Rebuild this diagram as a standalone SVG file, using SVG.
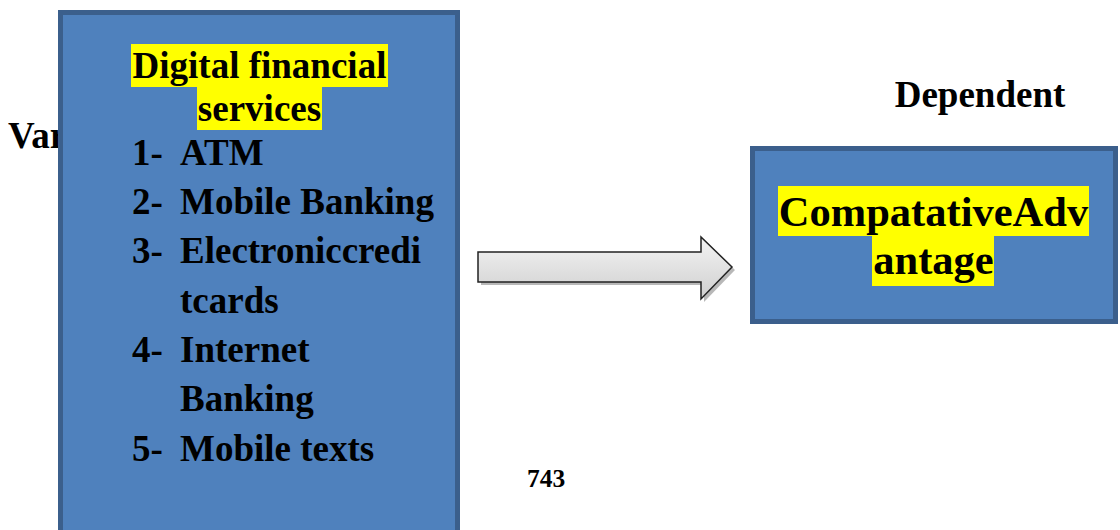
<svg xmlns="http://www.w3.org/2000/svg" width="1120" height="530" viewBox="0 0 1120 530">
<style>
.t{font-family:"Liberation Serif","Times New Roman",serif;font-weight:bold;fill:#000}
.box{fill:#4f81bd;stroke:#3b5f8c;stroke-width:5}
.hl{fill:#ffff00}
</style>
<defs>
<linearGradient id="ag" x1="0" y1="0" x2="0" y2="1">
<stop offset="0" stop-color="#f4f4f4"/>
<stop offset="1" stop-color="#cfcfcf"/>
</linearGradient>
</defs>
<rect width="1120" height="530" fill="#fff"/>
<text class="t" x="8" y="148" font-size="37">Var</text>
<g id="independent">
<rect class="box" x="60.5" y="12.5" width="397" height="530"/>
<rect class="hl" x="131" y="44" width="257" height="43"/>
<rect class="hl" x="197" y="87" width="125" height="43"/>
<text class="t" x="259.5" y="78" font-size="37" text-anchor="middle">Digital financial</text>
<text class="t" x="259.5" y="121" font-size="37" text-anchor="middle">services</text>
<g class="t" font-size="37">
<text x="132" y="165">1-</text><text x="180" y="165">ATM</text>
<text x="132" y="214">2-</text><text x="180" y="214">Mobile Banking</text>
<text x="132" y="263">3-</text><text x="180" y="263">Electroniccredi</text>
<text x="180" y="313">tcards</text>
<text x="132" y="362">4-</text><text x="180" y="362">Internet</text>
<text x="180" y="411">Banking</text>
<text x="132" y="461">5-</text><text x="180" y="461">Mobile texts</text>
</g>
</g>
<g id="connectors">
<polygon points="481,255 704,255 704,240 735,270 704,302 704,285 481,285" fill="#9a9a9a" opacity="0.7"/>
<polygon points="478,252 701,252 701,237 732,267 701,299 701,282 478,282" fill="url(#ag)" stroke="#222" stroke-width="1.5"/>
</g>
<text class="t" x="980" y="107" font-size="37" text-anchor="middle">Dependent</text>
<g id="dependent">
<rect class="box" x="752.5" y="148.5" width="363" height="173"/>
<rect class="hl" x="778" y="186" width="311" height="50"/>
<rect class="hl" x="872" y="236" width="122" height="50"/>
<text class="t" x="933.5" y="226" font-size="42.5" text-anchor="middle">CompatativeAdv</text>
<text class="t" x="933.5" y="274" font-size="42.5" text-anchor="middle">antage</text>
</g>
<text class="t" x="546" y="487" font-size="25.5" text-anchor="middle">743</text>
</svg>
